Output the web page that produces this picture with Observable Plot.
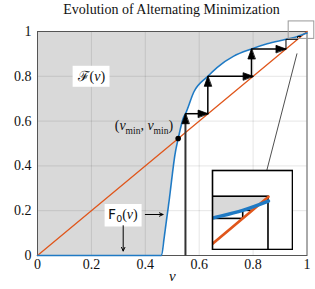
<!DOCTYPE html>
<html><head><meta charset="utf-8">
<script src="https://cdn.jsdelivr.net/npm/d3@7"></script>
<script src="https://cdn.jsdelivr.net/npm/@observablehq/plot@0.6"></script>
<style>
body{margin:0;background:#fff;}
#wrap{position:relative;width:315px;height:289px;overflow:hidden;}
#title{height:20px;line-height:20px;text-align:center;font-family:"Liberation Serif",serif;font-size:14px;color:#111;padding-left:28px;white-space:nowrap;}
#wrap svg{display:block;}
#inset{position:absolute;left:211px;top:169px;}
</style></head>
<body><div id="wrap"><div id="title">Evolution of Alternating Minimization</div></div>
<script>
// ---- data ----
const nu = [0, 0.46, 0.47, 0.48, 0.49, 0.50, 0.51, 0.522, 0.543, 0.549, 0.58, 0.632, 0.667, 0.728, 0.794, 0.852, 0.922, 0.965, 1.0];
const Fnu = [0, 0, 0.08, 0.17, 0.26, 0.36, 0.45, 0.522, 0.62, 0.633, 0.73, 0.80, 0.84, 0.89, 0.922, 0.945, 0.965, 0.978, 0.993];
const diagNu = [0, 1];
const nuMin = 0.522;
const stepNu = [0.549, 0.632, 0.794, 0.922, 0.965];
const stepF  = [0.633, 0.800, 0.922, 0.965, 0.978];
const xTicks = [0, 0.2, 0.4, 0.6, 0.8, 1];
const xTickLabels = ["0", "0.2", "0.4", "0.6", "0.8", "1"];
const yTicks = [0, 0.2, 0.4, 0.6, 0.8, 1];
const yTickLabels = ["0", "0.2", "0.4", "0.6", "0.8", "1"];
const insetXDomain = [0.924, 1.0326];
const insetYDomain = [0.9148, 1.0423];
const zoomBox = [{x1: 0.932, x2: 1.027, y1: 0.967, y2: 1.045}];
const connector = [{x1: 0.963, y1: 0.902, x2: 0.85, y2: 0.376}];
const f0Arrows = [{x1: 0.40, y1: 0.183, x2: 0.466, y2: 0.183}, {x1: 0.318, y1: 0.133, x2: 0.318, y2: 0.02}];

// ---- tables built from the arrays ----
const curve = nu.map((n, i) => ({nu: n, F: Fnu[i]}));
const diag = diagNu.map(n => ({nu: n, F: n}));
const segs = stepNu.flatMap((n, k) => [
  {k, dir: "v", x1: n, y1: k === 0 ? 0 : n, x2: n, y2: stepF[k]},
  {k, dir: "h", x1: n, y1: stepF[k], x2: stepF[k], y2: stepF[k]}
]);
const heads = segs.filter(d => d.k < 3).map(d => ({x: d.x2, y: d.y2, rot: d.dir === "v" ? 0 : 90}));
const headShape = {draw(ctx, l) { ctx.moveTo(0, -l); ctx.lineTo(-3.6, 0); ctx.lineTo(3.6, 0); ctx.closePath(); }};

const BLUE = "#1f7ac4", ORANGE = "#e0561b", SERIF = "Liberation Serif";

const main = Plot.plot({
  width: 315, height: 269,
  marginLeft: 37, marginRight: 8.5, marginTop: 11, marginBottom: 34,
  x: {domain: [0, 1], label: null},
  y: {domain: [0, 1], label: null},
  style: {fontFamily: SERIF, fontSize: "14px", overflow: "visible", color: "#111"},
  marks: [
    Plot.areaY(curve, {x: "nu", y1: "F", y2: d => 1, fill: "#d9d9d9"}),
    Plot.gridX(xTicks.slice(1, -1), {stroke: "black", strokeOpacity: 0.1}),
    Plot.gridY(yTicks.slice(1, -1), {stroke: "black", strokeOpacity: 0.1}),
    Plot.frame({stroke: "#555"}),
    Plot.line(diag, {x: "nu", y: "F", stroke: ORANGE, strokeWidth: 1.3}),
    Plot.line(curve, {x: "nu", y: "F", stroke: BLUE, strokeWidth: 1.6, curve: "monotone-x"}),
    Plot.link(segs.filter(d => d.k === 0 && d.dir === "v"), {x1: "x1", y1: "y1", x2: "x2", y2: "y2", stroke: "#333", strokeWidth: 2}),
    Plot.link(segs.filter(d => d.k < 3 && !(d.k === 0 && d.dir === "v")), {x1: "x1", y1: "y1", x2: "x2", y2: "y2", stroke: "black", strokeWidth: 1.5}),
    Plot.link(segs.filter(d => d.k >= 3), {x1: "x1", y1: "y1", x2: "x2", y2: "y2", stroke: "black", strokeWidth: 1}),
    Plot.vector(heads, {x: "x", y: "y", rotate: "rot", length: 10, anchor: "end", shape: headShape, fill: "black", stroke: "black", strokeWidth: 0.8}),
    Plot.dot([{x: nuMin, y: nuMin}], {x: "x", y: "y", r: 2.8, fill: "black", stroke: null}),
    Plot.rect(zoomBox, {x1: "x1", x2: "x2", y1: "y1", y2: "y2", fill: "none", stroke: "#999", strokeWidth: 1}),
    Plot.link(connector, {x1: "x1", y1: "y1", x2: "x2", y2: "y2", stroke: "#222", strokeWidth: 0.8}),
    Plot.text(["ℱ(ν)"], {x: d => 0.2, y: d => 0.8, fontSize: 14, fill: "#111"}),
    Plot.text(["F0(ν)"], {x: d => 0.317, y: d => 0.183, fontSize: 14, fill: "#111"}),
    Plot.text(["(νmin, νmin)"], {x: d => 0.503, y: d => 0.58, textAnchor: "end", fontSize: 14, fill: "#111"}),
    Plot.arrow(f0Arrows, {x1: "x1", y1: "y1", x2: "x2", y2: "y2", stroke: "black", strokeWidth: 1, headLength: 6, headAngle: 50}),
    Plot.axisX(xTicks, {tickSize: 0, tickPadding: 4, tickFormat: d => xTickLabels[xTicks.indexOf(d)], fontSize: 14}),
    Plot.axisY(yTicks, {tickSize: 0, tickPadding: 6, tickFormat: d => yTickLabels[yTicks.indexOf(d)], fontSize: 14}),
    Plot.text(["ν"], {frameAnchor: "bottom", dy: 25, fontStyle: "italic", fontSize: 15, fill: "#111"})
  ]
});

const inset = Plot.plot({
  width: 82, height: 81, margin: 1,
  x: {domain: insetXDomain, axis: null},
  y: {domain: insetYDomain, axis: null},
  marks: [
    Plot.frame({fill: "white", stroke: null}),
    Plot.areaY(curve, {x: "nu", y1: "F", y2: d => 1, fill: "#d9d9d9", clip: true}),
    Plot.rect([0], {x1: d => 0, x2: d => 1, y1: d => 0, y2: d => 1, fill: "none", stroke: "black", strokeWidth: 1.6, clip: true}),
    Plot.link(segs.filter(d => d.k >= 3), {x1: "x1", y1: "y1", x2: "x2", y2: "y2", stroke: "black", strokeWidth: 1.6, clip: true}),
    Plot.line(diag, {x: "nu", y: "F", stroke: ORANGE, strokeWidth: 2.6, clip: true}),
    Plot.line(curve, {x: "nu", y: "F", stroke: BLUE, strokeWidth: 3.4, curve: "monotone-x", clip: true}),
    Plot.frame({stroke: "black", strokeWidth: 1.6})
  ]
});
inset.id = "inset";

const wrap = document.getElementById("wrap");
wrap.appendChild(main);
wrap.appendChild(inset);

// rich text (subscripts, mixed fonts) + white label boxes
const NS = "http://www.w3.org/2000/svg";
function richen(svg, key, parts, box) {
  svg.querySelectorAll("text").forEach(t => {
    if (t.textContent !== key) return;
    t.textContent = "";
    let shifted = false;
    for (const p of parts) {
      const s = document.createElementNS(NS, "tspan");
      s.textContent = p.t;
      if (p.italic) s.setAttribute("font-style", "italic");
      if (p.family) s.setAttribute("font-family", p.family);
      if (p.sub) { s.setAttribute("font-size", "9.5"); if (!shifted) { s.setAttribute("dy", "3.5"); shifted = true; } }
      else if (shifted) { s.setAttribute("dy", "-3.5"); shifted = false; }
      t.appendChild(s);
    }
    if (box) {
      const b = t.getBBox();
      const r = document.createElementNS(NS, "rect");
      r.setAttribute("x", b.x - box[0]); r.setAttribute("y", b.y - box[1]);
      r.setAttribute("width", b.width + 2 * box[0]); r.setAttribute("height", b.height + 2 * box[1]);
      r.setAttribute("fill", "white");
      if (t.getAttribute("transform")) r.setAttribute("transform", t.getAttribute("transform"));
      t.parentNode.insertBefore(r, t);
    }
  });
}
richen(main, "ℱ(ν)", [{t: "ℱ", family: "DejaVu Serif"}, {t: "("}, {t: "ν", italic: true}, {t: ")"}], [4, 2]);
richen(main, "F0(ν)", [{t: "F", family: "DejaVu Sans"}, {t: "0", sub: true, family: "DejaVu Sans"}, {t: "("}, {t: "ν", italic: true}, {t: ")"}], [3.5, 2]);
richen(main, "(νmin, νmin)", [{t: "("}, {t: "ν", italic: true}, {t: "min", sub: true}, {t: ", "}, {t: "ν", italic: true}, {t: "min", sub: true}, {t: ")"}], null);
</script>
</body></html>
